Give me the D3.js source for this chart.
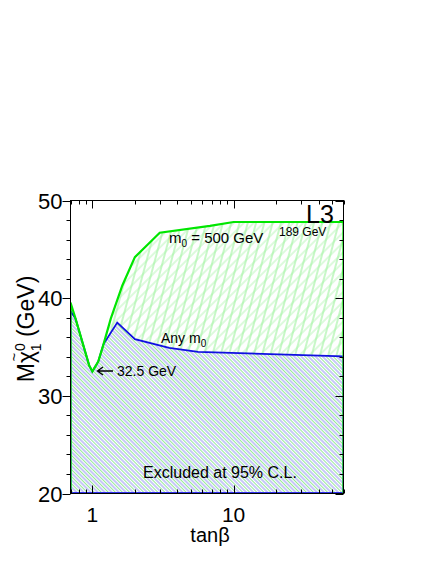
<!DOCTYPE html>
<html>
<head>
<meta charset="utf-8">
<script src="https://cdn.jsdelivr.net/npm/d3@7"></script>
<style>
body { margin: 0; background: #fff; }
text { font-family: "Liberation Sans", Arial, Helvetica, sans-serif; fill: #000; }
</style>
</head>
<body>
<div id="chart"></div>
<script>
// m0 = 500 GeV limit (green)
var m0Tan  = [0.7, 0.76, 0.95, 1.0, 1.1, 1.2, 1.35, 1.63, 2.0, 3.0, 6.8, 10, 60];
var m0Mass = [39.55, 37.9, 33.1, 32.5, 33.5, 35.3, 37.9, 41.3, 44.2, 46.7, 47.4, 47.8, 47.8];
// any m0 limit (blue)
var anyTan  = [0.7, 0.76, 0.95, 1.0, 1.1, 1.2, 1.5, 2.0, 3.5, 5.6, 60];
var anyMass = [38.7, 37.9, 33.1, 32.5, 33.5, 35.3, 37.5, 35.8, 34.9, 34.5, 34.05];

var xMajor = [1, 10];
var xMinor = [0.7, 0.8, 0.9, 2, 3, 4, 5, 6, 7, 8, 9, 20, 30, 40, 50, 60];
var yMajor = [20, 30, 40, 50];
var yMinor = [22, 24, 26, 28, 32, 34, 36, 38, 42, 44, 46, 48];

var W = 436, H = 564;
var pL = 70.5, pR = 343.5, pT = 200.5, pB = 493.5;

var svg = d3.select("#chart").append("svg")
  .attr("width", W).attr("height", H);

var x = d3.scaleLog().domain([0.7, 60]).range([pL, pR]);
var y = d3.scaleLinear().domain([20, 50]).range([pB, pT]);

var defs = svg.append("defs");
defs.append("clipPath").attr("id", "plotclip")
  .append("rect").attr("x", pL).attr("y", pT)
  .attr("width", pR - pL).attr("height", pB - pT);

// hatch patterns
function hatch(id, angle, spacing, lines, bg) {
  var p = defs.append("pattern").attr("id", id)
    .attr("patternUnits", "userSpaceOnUse")
    .attr("width", spacing).attr("height", 20)
    .attr("patternTransform", "rotate(" + angle + ")");
  if (bg) p.append("rect").attr("width", spacing).attr("height", 20).attr("fill", bg);
  lines.forEach(function(l) {
    p.append("line").attr("x1", l.off).attr("x2", l.off)
      .attr("y1", 0).attr("y2", 20)
      .attr("stroke", l.color).attr("stroke-width", l.w);
  });
}
hatch("gSteep", 15, 8, [{off: 1, color: "#90f090", w: 1}]);
hatch("gDiag", 45, 7, [{off: 1, color: "#a8f4a8", w: 0.8}]);
hatch("bDiag", -45, 5, [{off: 1, color: "#9090f4", w: 1.0}, {off: 3.5, color: "#8ae88a", w: 0.9}], "#fff");

var pts = function(t, m) { return t.map(function(d, i) { return [d, m[i]]; }); };
var greenPts = pts(m0Tan, m0Mass);
var bluePts = pts(anyTan, anyMass);

var area = d3.area().x(function(d) { return x(d[0]); })
  .y0(y(20)).y1(function(d) { return y(d[1]); });
var line = d3.line().x(function(d) { return x(d[0]); }).y(function(d) { return y(d[1]); });

var g = svg.append("g").attr("clip-path", "url(#plotclip)");

g.append("path").datum(greenPts).attr("d", area).attr("fill", "url(#gSteep)");
g.append("path").datum(greenPts).attr("d", area).attr("fill", "url(#gDiag)");
g.append("path").datum(bluePts).attr("d", area).attr("fill", "url(#bDiag)");

// blue outline (curve + bottom)
g.append("path")
  .datum([[0.7, 20]].concat(bluePts, [[60, 20]]))
  .attr("d", line).attr("fill", "none")
  .attr("stroke", "#1010e0").attr("stroke-width", 1.8);
g.append("line")
  .attr("x1", pL).attr("x2", pR).attr("y1", pB - 1).attr("y2", pB - 1)
  .attr("stroke", "#3030e8").attr("stroke-width", 1);

// green outline (left edge + curve + right edge)
g.append("path")
  .datum([[0.7, 20]].concat(greenPts, [[60, 20]]))
  .attr("d", line).attr("fill", "none")
  .attr("stroke", "#00e600").attr("stroke-width", 2.2);

// frame
svg.append("rect").attr("x", pL).attr("y", pT)
  .attr("width", pR - pL).attr("height", pB - pT)
  .attr("fill", "none").attr("stroke", "#000").attr("stroke-width", 1);

var ticks = svg.append("g").attr("stroke", "#000").attr("stroke-width", 1);
function xt(vals, len) {
  vals.forEach(function(v) {
    var px = Math.round(x(v)) + 0.5;
    ticks.append("line").attr("x1", px).attr("x2", px).attr("y1", pB).attr("y2", pB - len);
    ticks.append("line").attr("x1", px).attr("x2", px).attr("y1", pT).attr("y2", pT + len);
  });
}
function yt(vals, len) {
  vals.forEach(function(v) {
    var py = Math.round(y(v)) + 0.5;
    ticks.append("line").attr("x1", pL).attr("x2", pL - len).attr("y1", py).attr("y2", py);
    ticks.append("line").attr("x1", pR).attr("x2", pR - len).attr("y1", py).attr("y2", py);
  });
}
xt(xMajor, 8); xt(xMinor, 4);
yt(yMajor, 8); yt(yMinor, 4);

// tick labels
svg.selectAll(".xl").data(xMajor).enter().append("text")
  .attr("x", function(d) { return x(d); }).attr("y", pB + 28)
  .attr("text-anchor", "middle").style("font-size", "21px")
  .text(function(d) { return d; });
svg.selectAll(".yl").data(yMajor).enter().append("text")
  .attr("x", pL - 8).attr("y", function(d) { return y(d) + 8; })
  .attr("text-anchor", "end").style("font-size", "22px")
  .text(function(d) { return d; });

// axis titles
svg.append("text").attr("x", 210).attr("y", 542)
  .attr("text-anchor", "middle").style("font-size", "20px").text("tanβ");

var ylg = svg.append("g").attr("transform", "translate(34,329) rotate(-90)");
var yl = ylg.append("text").attr("text-anchor", "middle").style("font-size", "23px");
yl.append("tspan").text("M");
yl.append("tspan").text("χ");
yl.append("tspan").attr("dy", -9).style("font-size", "14px").text("0");
yl.append("tspan").attr("dx", -8).attr("dy", 16).style("font-size", "14px").text("1");
yl.append("tspan").attr("dy", -7).text(" (GeV)");
// tilde over the chi
var ext = yl.node().getExtentOfChar(1);
ylg.append("text").attr("x", ext.x + ext.width / 2).attr("y", -15)
  .attr("text-anchor", "middle").style("font-size", "15px").text("~");

// annotations
svg.append("text").attr("x", 306).attr("y", 223).style("font-size", "25px").text("L3");
svg.append("text").attr("x", 279).attr("y", 236).style("font-size", "12px").text("189 GeV");

var t1 = svg.append("text").attr("x", 169).attr("y", 243).style("font-size", "15px");
t1.append("tspan").text("m");
t1.append("tspan").attr("dy", 4).style("font-size", "10px").text("0");
t1.append("tspan").attr("dy", -4).text(" = 500 GeV");

var t2 = svg.append("text").attr("x", 161).attr("y", 343).style("font-size", "14px");
t2.append("tspan").text("Any m");
t2.append("tspan").attr("dy", 4).style("font-size", "10px").text("0");

// arrow to the minimum
svg.append("path").attr("d", "M113,371H98M103,367L97.5,371L103,375")
  .attr("fill", "none").attr("stroke", "#000").attr("stroke-width", 1.3);
svg.append("text").attr("x", 117).attr("y", 376).style("font-size", "14px").text("32.5 GeV");

svg.append("text").attr("x", 143).attr("y", 478).style("font-size", "16px").text("Excluded at 95% C.L.");
</script>
</body>
</html>
